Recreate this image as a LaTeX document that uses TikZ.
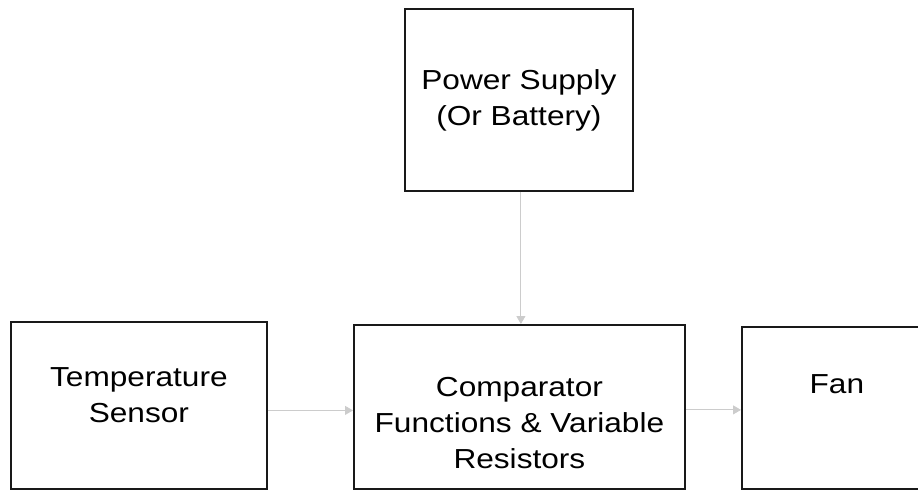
\documentclass[tikz,border=0pt]{standalone}
\usepackage{fontspec}
\setmainfont{Liberation Sans}[FakeStretch=1.15]
\usetikzlibrary{positioning,arrows.meta}

\begin{document}
\begin{tikzpicture}[
    x=1pt, y=-1pt,
    font=\fontsize{27.5}{36}\selectfont,
    >={Triangle[length=8pt, width=9pt]},
    block/.style ={draw=black!90, line width=1.8pt, anchor=north west,
                   inner sep=0pt},
    txt/.style   ={align=center, inner sep=0pt, text=black},
    flow/.style  ={->, line width=0.9pt, draw=black!20, fill=black!25},
  ]
  \useasboundingbox (0,0) rectangle (918,490);
  \clip (0,0) rectangle (918,490);

  % ---------------------------------------------------------------- boxes ---
  \node[block, minimum width=228pt, minimum height=182pt] (power)  at (404,8)   {};
  \node[block, minimum width=256pt, minimum height=167pt] (sensor) at (10,321)  {};
  \node[block, minimum width=331pt, minimum height=164pt] (comp)   at (353,324) {};
  \node[block, minimum width=190pt, minimum height=162pt] (fan)    at (741,326) {};

  % ---------------------------------------------------------------- texts ---
  \node[txt, below=61pt of power.north]  (powertxt)  {Power Supply\\(Or Battery)};
  \node[txt, below=46pt of sensor.north] (sensortxt) {Temperature\\Sensor};
  \node[txt, below=53pt of comp.north]   (comptxt)
        {Comparator\\Functions \& Variable\\Resistors};
  \node[txt, below=48pt of fan.north]    (fantxt)    {Fan};

  % ---------------------------------------------------------------- edges ---
  \draw[flow] ([xshift=2pt]power.south) -- ([xshift=2pt]power.south |- comp.north);
  \draw[flow] ([yshift=-5pt]sensor.east) -- ([yshift=-5pt]sensor.east -| comp.west);
  \draw[flow] ([yshift=-3pt]comp.east) -- ([yshift=-3pt]comp.east -| fan.west);

\end{tikzpicture}
\end{document}
